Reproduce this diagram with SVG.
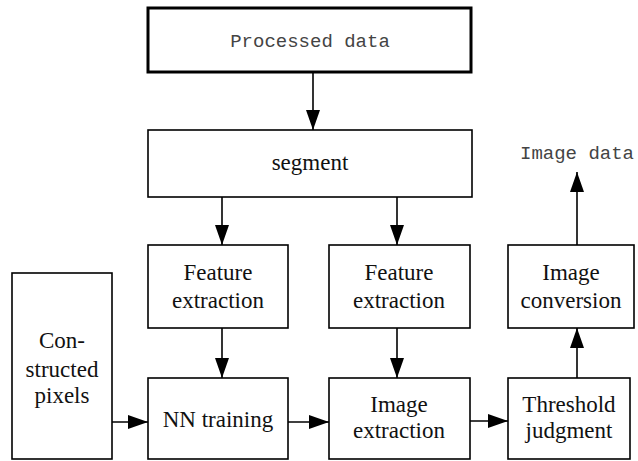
<svg xmlns="http://www.w3.org/2000/svg" width="638" height="461" viewBox="0 0 638 461">
<style>
.box{fill:#fff;stroke:#000;stroke-width:1.6}
.thick{fill:#fff;stroke:#000;stroke-width:3}
.t{font-family:'Liberation Serif',serif;font-size:23px;fill:#111;text-anchor:middle}
.m{font-family:'Liberation Mono',monospace;font-size:19px;fill:#444;text-anchor:middle}
.c{stroke:#000;stroke-width:1.6;fill:none;marker-end:url(#ah)}
</style>
<defs>
<marker id="ah" viewBox="0 0 20 14" refX="20" refY="7" markerWidth="20" markerHeight="14" markerUnits="userSpaceOnUse" orient="auto">
<path d="M0,0 L20,7 L0,14 Z" fill="#000"/>
</marker>
</defs>
<rect width="638" height="461" fill="#fff"/>
<g id="connectors">
<line class="c" x1="313" y1="72" x2="313" y2="130"/>
<line class="c" x1="222" y1="197" x2="222" y2="245"/>
<line class="c" x1="397" y1="197" x2="397" y2="245"/>
<line class="c" x1="222" y1="328" x2="222" y2="378"/>
<line class="c" x1="397" y1="328" x2="397" y2="378"/>
<line class="c" x1="112" y1="422" x2="148" y2="422"/>
<line class="c" x1="288" y1="422" x2="329" y2="422"/>
<line class="c" x1="470" y1="421" x2="508" y2="421"/>
<line class="c" x1="577" y1="378" x2="577" y2="328"/>
<line class="c" x1="577" y1="245" x2="577" y2="172"/>
</g>
<g id="processed">
<rect class="thick" x="148" y="8" width="323" height="64"/>
<text class="m" x="310" y="47">Processed data</text>
</g>
<g id="segment">
<rect class="box" x="148" y="130" width="324" height="67"/>
<text class="t" x="310" y="170">segment</text>
</g>
<g id="feature1">
<rect class="box" x="148" y="245" width="140" height="83"/>
<text class="t" x="218" y="280">Feature</text>
<text class="t" x="218" y="308">extraction</text>
</g>
<g id="feature2">
<rect class="box" x="329" y="245" width="141" height="83"/>
<text class="t" x="399" y="280">Feature</text>
<text class="t" x="399" y="308">extraction</text>
</g>
<g id="conversion">
<rect class="box" x="508" y="245" width="126" height="83"/>
<text class="t" x="571" y="280">Image</text>
<text class="t" x="571" y="308">conversion</text>
</g>
<g id="pixels">
<rect class="box" x="12" y="273" width="100" height="186"/>
<text class="t" x="62" y="348">Con-</text>
<text class="t" x="62" y="377">structed</text>
<text class="t" x="62" y="403">pixels</text>
</g>
<g id="nn">
<rect class="box" x="148" y="378" width="140" height="81"/>
<text class="t" x="218" y="427">NN training</text>
</g>
<g id="imgext">
<rect class="box" x="329" y="378" width="141" height="81"/>
<text class="t" x="399" y="412">Image</text>
<text class="t" x="399" y="438">extraction</text>
</g>
<g id="threshold">
<rect class="box" x="508" y="378" width="122" height="81"/>
<text class="t" x="569" y="412">Threshold</text>
<text class="t" x="569" y="438">judgment</text>
</g>
<g id="imagedata">
<text class="m" x="577" y="159">Image data</text>
</g>
</svg>
